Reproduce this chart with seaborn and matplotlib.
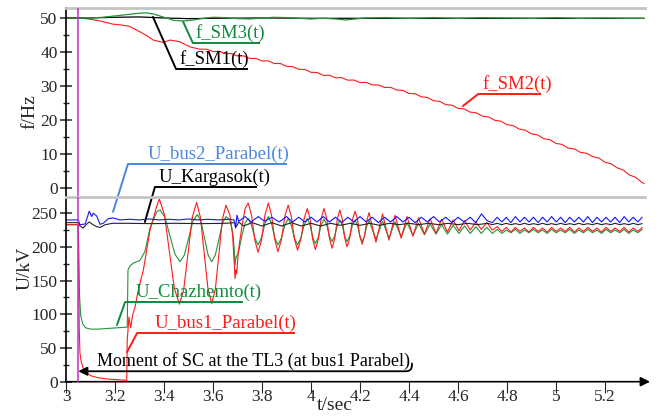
import numpy as np
import matplotlib
matplotlib.use("Agg")
import matplotlib.pyplot as plt
import seaborn as sns
from matplotlib.ticker import MultipleLocator, FormatStrFormatter

# ---------------- data ----------------
# frequencies (upper panel)
t_fsm1 = [3.00, 3.10, 3.20, 3.30, 3.40, 3.50, 3.60, 3.80, 4.00, 4.50, 5.00, 5.36]
f_sm1 = [50.0, 50.1, 50.3, 50.4, 50.1, 49.9, 50.0, 50.1, 50.0, 50.0, 50.0, 50.0]

t_fsm3 = [3.00, 3.05, 3.10, 3.15, 3.20, 3.25, 3.30, 3.33, 3.36, 3.40, 3.44, 3.48,
          3.52, 3.56, 3.60, 3.65, 3.70, 3.75, 3.80, 3.85, 3.90, 3.95, 4.00, 4.05,
          4.10, 4.14, 4.18, 4.22, 4.30, 4.40, 4.50, 4.60, 4.70, 4.80, 4.90, 5.00,
          5.10, 5.20, 5.30, 5.36]
f_sm3 = [50.0, 50.0, 50.1, 50.3, 50.7, 51.1, 51.5, 51.6, 51.2, 50.3, 49.4, 49.2,
         49.5, 50.0, 50.3, 50.2, 49.9, 49.8, 50.1, 50.3, 50.2, 50.0, 49.8, 50.0,
         49.8, 49.5, 49.8, 50.1, 50.2, 50.0, 50.2, 50.0, 50.2, 50.1, 50.0, 50.2,
         50.0, 50.1, 50.0, 50.0]

t_fsm2 = [3.00, 3.05, 3.10, 3.14, 3.19, 3.23, 3.26, 3.30, 3.33, 3.356, 3.397, 3.424,
          3.465, 3.506, 3.547,
          3.575, 3.600, 3.625, 3.650, 3.675, 3.700, 3.725, 3.750, 3.775, 3.800,
          3.825, 3.850, 3.875, 3.900, 3.925, 3.950, 3.975, 4.000, 4.025, 4.050,
          4.075, 4.100, 4.125, 4.150, 4.175, 4.200, 4.225, 4.250, 4.275, 4.300,
          4.325, 4.350, 4.375, 4.400, 4.425, 4.450, 4.475, 4.500, 4.525, 4.550,
          4.575, 4.600, 4.625, 4.650, 4.675, 4.700, 4.725, 4.750, 4.775, 4.800,
          4.825, 4.850, 4.875, 4.900, 4.925, 4.950, 4.975, 5.000, 5.025, 5.050,
          5.075, 5.100, 5.125, 5.150, 5.175, 5.200, 5.225, 5.250, 5.275, 5.300,
          5.325, 5.350, 5.360]
f_sm2 = [50.0, 50.2, 49.7, 49.2, 48.3, 48.0, 47.6, 46.1, 44.9, 43.6, 42.9, 43.6,
         43.1, 41.6, 40.9,
         40.9, 40.2, 40.3, 39.6, 39.65, 38.9, 38.95, 38.2, 38.2, 37.45,
         37.5, 36.7, 36.7, 35.85, 35.8, 35.0, 34.95, 34.1, 34.05, 33.2,
         33.25, 32.5, 32.55, 31.8, 31.85, 31.1, 31.15, 30.4, 30.4, 29.65,
         29.7, 28.9, 28.8, 27.9, 27.8, 26.9, 26.7, 25.75, 25.6, 24.6,
         24.45, 23.5, 23.35, 22.4, 22.2, 21.2, 21.0, 20.0, 19.75, 18.7,
         18.45, 17.4, 17.1, 16.0, 15.7, 14.6, 14.3, 13.2, 12.9, 11.8,
         11.6, 10.55, 10.3, 9.3, 8.9, 7.65, 7.2, 6.0, 5.35, 3.9,
         3.25, 1.8, 1.4]

# voltages (lower panel): transient part
t_bus1 = [3.000, 3.050, 3.052, 3.054, 3.057, 3.062, 3.070, 3.085, 3.100, 3.130,
          3.170, 3.210, 3.248, 3.250, 3.257, 3.264, 3.272, 3.282, 3.295, 3.316,
          3.343, 3.370, 3.381, 3.4015, 3.422, 3.4425, 3.463, 3.4805, 3.498, 3.5155,
          3.533, 3.5485, 3.564, 3.5795, 3.595, 3.6095, 3.624, 3.6385, 3.653, 3.669,
          3.680, 3.686, 3.690, 3.693, 3.697, 3.703, 3.717, 3.731, 3.744,
          3.7573, 3.7707, 3.784, 3.798, 3.812, 3.826, 3.839, 3.852, 3.865,
          3.879, 3.893, 3.907, 3.9197, 3.9323, 3.945, 3.9583, 3.9717, 3.985,
          3.996, 4.007, 4.018, 4.0297, 4.0413, 4.053, 4.064, 4.075, 4.086,
          4.0967, 4.1073, 4.118, 4.1277, 4.1373, 4.147, 4.158, 4.169, 4.180,
          4.1897, 4.1993, 4.209, 4.2183, 4.2277, 4.237,
          4.265, 4.292, 4.318, 4.343, 4.368, 4.392, 4.416,
          4.439, 4.463, 4.486, 4.510, 4.533, 4.557, 4.580, 4.604, 4.627, 4.650,
          4.673, 4.695, 4.718, 4.740]
u_bus1 = [233, 233, 150, 80, 42, 30, 20, 13, 9, 6,
          4, 3, 2, 62, 96, 80, 99, 111, 136, 166,
          225, 260, 271, 248, 193, 138, 115, 137, 190, 244,
          266, 244, 191, 138, 116, 137, 189, 241, 262, 247,
          218, 178, 153, 166, 160, 193, 228, 257, 265,
          247, 210, 192, 210, 247, 265, 247, 211, 193,
          210, 245, 262, 245, 212, 195, 210.5, 241.5, 257,
          242, 211, 196, 211, 242, 257, 242, 213, 198,
          212, 241, 255, 241, 214, 200, 213, 240, 253,
          241, 216, 204, 216, 239, 251,
          207, 249, 210, 247, 213, 245, 216,
          243, 219, 242, 220, 241, 222, 240, 224, 239, 225,
          237, 226, 236, 225]

t_chaz = [3.000, 3.050, 3.052, 3.055, 3.060, 3.068, 3.080, 3.100, 3.130, 3.170,
          3.210, 3.250, 3.253, 3.262, 3.275, 3.302, 3.322, 3.343, 3.370, 3.384,
          3.404, 3.4245, 3.445, 3.465, 3.483, 3.5005, 3.518, 3.536, 3.551, 3.5655,
          3.580, 3.595, 3.6095, 3.624, 3.6385, 3.653, 3.669, 3.680, 3.686, 3.690,
          3.694, 3.703, 3.717, 3.731, 3.744,
          3.7573, 3.7707, 3.784, 3.798, 3.812, 3.826, 3.839, 3.852, 3.865,
          3.879, 3.893, 3.907, 3.9197, 3.9323, 3.945, 3.9583, 3.9717, 3.985,
          3.996, 4.007, 4.018, 4.0297, 4.0413, 4.053, 4.064, 4.075, 4.086,
          4.0967, 4.1073, 4.118, 4.1277, 4.1373, 4.147, 4.158, 4.169, 4.180,
          4.1897, 4.1993, 4.209, 4.2183, 4.2277, 4.237,
          4.265, 4.292, 4.318, 4.343, 4.368, 4.392, 4.416,
          4.439, 4.463, 4.486, 4.510, 4.533, 4.557, 4.580, 4.604, 4.627, 4.650,
          4.673, 4.695, 4.718, 4.740]
u_chaz = [233, 233, 190, 130, 98, 86, 80, 78, 78, 79,
          80, 81, 166, 172, 176, 180, 193, 228, 252, 255,
          244, 216, 189, 178, 188, 213, 238, 248, 238, 213,
          188, 178, 188, 211, 235, 245, 240, 222, 200, 173,
          185, 190, 215, 236, 242,
          232, 213, 203, 213.5, 234.5, 245, 234.5, 213.5, 203,
          213, 232, 242, 232, 213, 203, 213, 232, 242,
          233, 214, 205, 214, 232, 241, 233, 216, 208,
          216, 232, 240, 232, 216, 208, 216, 232, 240,
          232, 216, 208, 216, 231, 239,
          211, 238, 213, 237, 215, 236, 217,
          235, 218, 234, 219, 233, 219, 232, 220, 231, 220,
          230, 220, 229, 220]

t_bus2 = [3.000, 3.050, 3.057, 3.078, 3.095, 3.105, 3.111, 3.125, 3.139, 3.152,
          3.173, 3.193, 3.220, 3.260, 3.300, 3.340, 3.380, 3.420, 3.460, 3.500,
          3.540, 3.580, 3.620, 3.660, 3.686, 3.692, 3.698, 3.705, 3.731, 3.755,
          3.785, 3.810, 3.840, 3.870, 3.900, 3.925, 3.950, 3.975, 4.000, 4.025,
          4.050, 4.075, 4.100, 4.125, 4.150, 4.175, 4.200, 4.225, 4.250, 4.275,
          4.300, 4.325, 4.350, 4.375, 4.400, 4.425, 4.450, 4.475, 4.500, 4.525,
          4.550, 4.575, 4.600, 4.625, 4.650, 4.672, 4.696, 4.718, 4.740]
u_bus2 = [240, 240, 233, 234, 253, 245, 250, 246, 233.5, 235,
          242, 243, 240, 241, 240, 241.5, 240, 241, 240, 241.5,
          240, 241, 240, 241, 240, 228, 247, 238, 245, 237,
          245, 238, 244, 237, 245, 237, 244, 237, 244, 237,
          245, 237, 244, 236, 244, 237, 245, 237, 244, 236,
          244, 237, 245, 237, 244, 236, 244, 237, 245, 237,
          244, 236, 244, 237, 244, 236, 249, 239, 236]

t_karg = [3.000, 3.050, 3.057, 3.070, 3.085, 3.095, 3.110, 3.125, 3.140, 3.160,
          3.190, 3.250, 3.350, 3.450, 3.550, 3.650, 3.688, 3.695, 3.705, 3.725,
          3.760, 3.800, 3.840, 3.880, 3.920, 3.960, 4.000, 4.040, 4.080, 4.120,
          4.160, 4.200, 4.240, 4.280, 4.320, 4.360, 4.400, 4.440, 4.480, 4.520,
          4.560, 4.600, 4.640, 4.680, 4.720, 4.740]
u_karg = [236, 236, 231, 228, 234, 237, 233, 230, 229, 233,
          235, 235, 234.5, 235, 234.5, 235, 236, 230, 237, 231,
          236, 231, 236, 231, 236, 231, 235, 231, 235, 232,
          235, 232, 235, 232, 235, 233, 235, 233, 235, 233,
          235, 233, 235, 233, 235, 233]

# steady ripple after t = 4.76 s (times of the ripple extrema)
t_tail = [4.760, 4.779, 4.797, 4.816, 4.834, 4.853, 4.871, 4.890, 4.908, 4.927,
          4.945, 4.964, 4.982, 5.001, 5.019, 5.038, 5.056, 5.075, 5.093, 5.112,
          5.130, 5.149, 5.167, 5.186, 5.204, 5.223, 5.241, 5.260, 5.278, 5.297,
          5.315, 5.334, 5.352]
bus1_tail = [230, 223, 229, 222, 229, 223, 228, 222, 229, 223, 228, 222, 229, 223,
             228, 223, 229, 222, 228, 223, 229, 223, 228, 222, 229, 223, 228, 223,
             229, 222, 228, 223, 229]
chaz_tail = [226, 220, 225, 221, 226, 220, 225, 221, 226, 221, 225, 220, 226, 221,
             225, 221, 226, 220, 225, 221, 226, 221, 225, 220, 226, 221, 225, 221,
             226, 220, 225, 221, 226]
bus2_tail = [244, 237, 244, 236, 245, 237, 244, 237, 244, 236, 244, 237, 245, 237,
             244, 236, 244, 237, 244, 237, 245, 236, 244, 237, 244, 237, 244, 236,
             245, 237, 244, 237, 244]
karg_tail = [235, 233, 235, 233, 234.5, 233, 235, 233, 234.5, 233, 235, 233, 234.5,
             233, 235, 233, 234.5, 233, 235, 233, 234.5, 233, 235, 233, 234.5, 233,
             235, 233, 234.5, 233, 235, 233, 234.5]

t_sc = 3.05  # moment of the short circuit
x_ticks = [3, 3.2, 3.4, 3.6, 3.8, 4, 4.2, 4.4, 4.6, 4.8, 5, 5.2]

# ---------------- style ----------------
sns.set_style("white")
plt.rcParams["font.family"] = ["Liberation Serif", "DejaVu Serif"]

RED = "#ff1a1a"
GREEN = "#22943a"
BLUE = "#1414ff"
BLUE_LBL = "#4a86e0"
GREEN_LBL = "#0d8a3a"
GRAY = "#c4c4c4"
MAGENTA = "#c030c8"

W, H = 658, 416
fig = plt.figure(figsize=(W / 100, H / 100), dpi=100)
x0, x1 = 66, 645
ax_f = fig.add_axes([x0 / W, 1 - 196 / H, (x1 - x0) / W, (196 - 8) / H])
ax_u = fig.add_axes([x0 / W, 1 - 381.7 / H, (x1 - x0) / W, (381.7 - 196.5) / H])

xlim = (3, 3 + (x1 - x0) / 245)

# upper panel curves
sns.lineplot(x=t_fsm2, y=f_sm2, ax=ax_f, color=RED, linewidth=0.8, estimator=None, sort=False)
sns.lineplot(x=t_fsm1, y=f_sm1, ax=ax_f, color="black", linewidth=0.9, estimator=None, sort=False)
sns.lineplot(x=t_fsm3, y=f_sm3, ax=ax_f, color=GREEN, linewidth=0.9, estimator=None, sort=False)

# lower panel curves
sns.lineplot(x=t_chaz + t_tail, y=u_chaz + chaz_tail, ax=ax_u, color=GREEN, linewidth=0.8,
             estimator=None, sort=False)
sns.lineplot(x=t_bus1 + t_tail, y=u_bus1 + bus1_tail, ax=ax_u, color=RED, linewidth=0.8,
             estimator=None, sort=False)
sns.lineplot(x=t_karg + t_tail, y=u_karg + karg_tail, ax=ax_u, color="#222222", linewidth=0.8,
             estimator=None, sort=False)
sns.lineplot(x=t_bus2 + t_tail, y=u_bus2 + bus2_tail, ax=ax_u, color=BLUE, linewidth=0.8,
             estimator=None, sort=False)

for ax in (ax_f, ax_u):
    ax.axvline(t_sc, color=MAGENTA, lw=1.1, zorder=5)
    ax.set_xlim(*xlim)
    ax.spines["right"].set_visible(False)
    ax.spines["bottom"].set_visible(False)
    ax.spines["left"].set_linewidth(1.2)
    ax.spines["left"].set_color("black")
    ax.spines["top"].set_color(GRAY)
    ax.spines["top"].set_linewidth(2)
    ax.set_facecolor("none")
    ax.set_xlabel("")
    ax.set_ylabel("")
    ax.tick_params(axis="y", which="major", direction="inout", length=8, width=1.1,
                   labelsize=12.5, pad=2, left=True)
    ax.tick_params(axis="y", which="minor", direction="inout", length=5, width=1, left=True)

ax_f.set_ylim((188.3 - 196) / 3.4, (188.3 - 8) / 3.4)
ax_f.yaxis.set_major_locator(MultipleLocator(10))
ax_f.yaxis.set_minor_locator(MultipleLocator(5))
ax_f.set_xticks([])

ax_u.set_ylim(0, (381.7 - 196.5) / 0.674)
ax_u.yaxis.set_major_locator(MultipleLocator(50))
ax_u.yaxis.set_minor_locator(MultipleLocator(25))
ax_u.set_xticks(x_ticks)
ax_u.xaxis.set_major_formatter(FormatStrFormatter("%g"))
ax_u.tick_params(axis="x", direction="out", length=8, width=0.8, labelsize=12.5, pad=-3,
                 bottom=True)

# x axis arrow
ax_u.annotate("", xy=(1.0087, 0), xytext=(0, 0), xycoords="axes fraction",
              arrowprops=dict(arrowstyle="-|>", color="black", lw=1.2,
                              shrinkA=0, shrinkB=0, mutation_scale=14),
              annotation_clip=False)

fig.text(30 / W, 1 - 112 / H, "f/Hz", rotation=90, ha="center", va="center", fontsize=14)
fig.text(25 / W, 1 - 268 / H, "U/kV", rotation=90, ha="center", va="center", fontsize=14)
fig.text(335 / W, 1 - 406 / H, "t/sec", ha="center", va="center", fontsize=14)


def callout(ax, text, color, tip, knee, end, tx, tip_ax=None, fs=13.5):
    src = (tip_ax or ax).transData
    ax.annotate("", xy=tip, xycoords=src, xytext=knee, textcoords="data",
                arrowprops=dict(arrowstyle="-", color=color, lw=1.4, shrinkA=0, shrinkB=0),
                annotation_clip=False)
    ax.plot([knee[0], end], [knee[1], knee[1]], color=color, lw=1.4, clip_on=False,
            solid_capstyle="butt")
    ax.annotate(text, xy=(tx, knee[1]), xytext=(0, 0.5), textcoords="offset points",
                ha="left", va="bottom", color=color, fontsize=fs, annotation_clip=False)


callout(ax_f, "f_SM3(t)", GREEN_LBL, (3.478, 49.0), (3.518, 42.7), 3.792, 3.527)
callout(ax_f, "f_SM1(t)", "black", (3.355, 50.4), (3.449, 35.1), 3.743, 3.465)
callout(ax_f, "f_SM2(t)", RED, (4.620, 24.2), (4.682, 27.7), 4.939, 4.70)
callout(ax_f, "U_bus2_Parabel(t)", BLUE_LBL, (3.192, 252), (3.253, 7.2), 3.902, 3.335,
        tip_ax=ax_u)
callout(ax_f, "U_Kargasok(t)", "black", (3.322, 237), (3.363, 0.4), 3.780, 3.376,
        tip_ax=ax_u)
callout(ax_u, "U_Chazhemto(t)", GREEN_LBL, (3.208, 84), (3.241, 118), 3.722, 3.282)
callout(ax_u, "U_bus1_Parabel(t)", RED, (3.249, 44), (3.290, 72), 3.935, 3.363)

# moment of short circuit
ax_u.annotate("", xy=(t_sc, 15.5), xytext=(4.412, 27), textcoords="data",
              arrowprops=dict(arrowstyle="-|>", color="black", lw=1.3, shrinkA=0, shrinkB=0,
                              mutation_scale=13,
                              connectionstyle="angle,angleA=90,angleB=0,rad=6"),
              zorder=6)
ax_u.text(3.127, 17.5, "Moment of SC at the TL3 (at bus1 Parabel)", ha="left", va="bottom",
          fontsize=13, color="black", zorder=6)

fig.savefig("out.png", dpi=100)
